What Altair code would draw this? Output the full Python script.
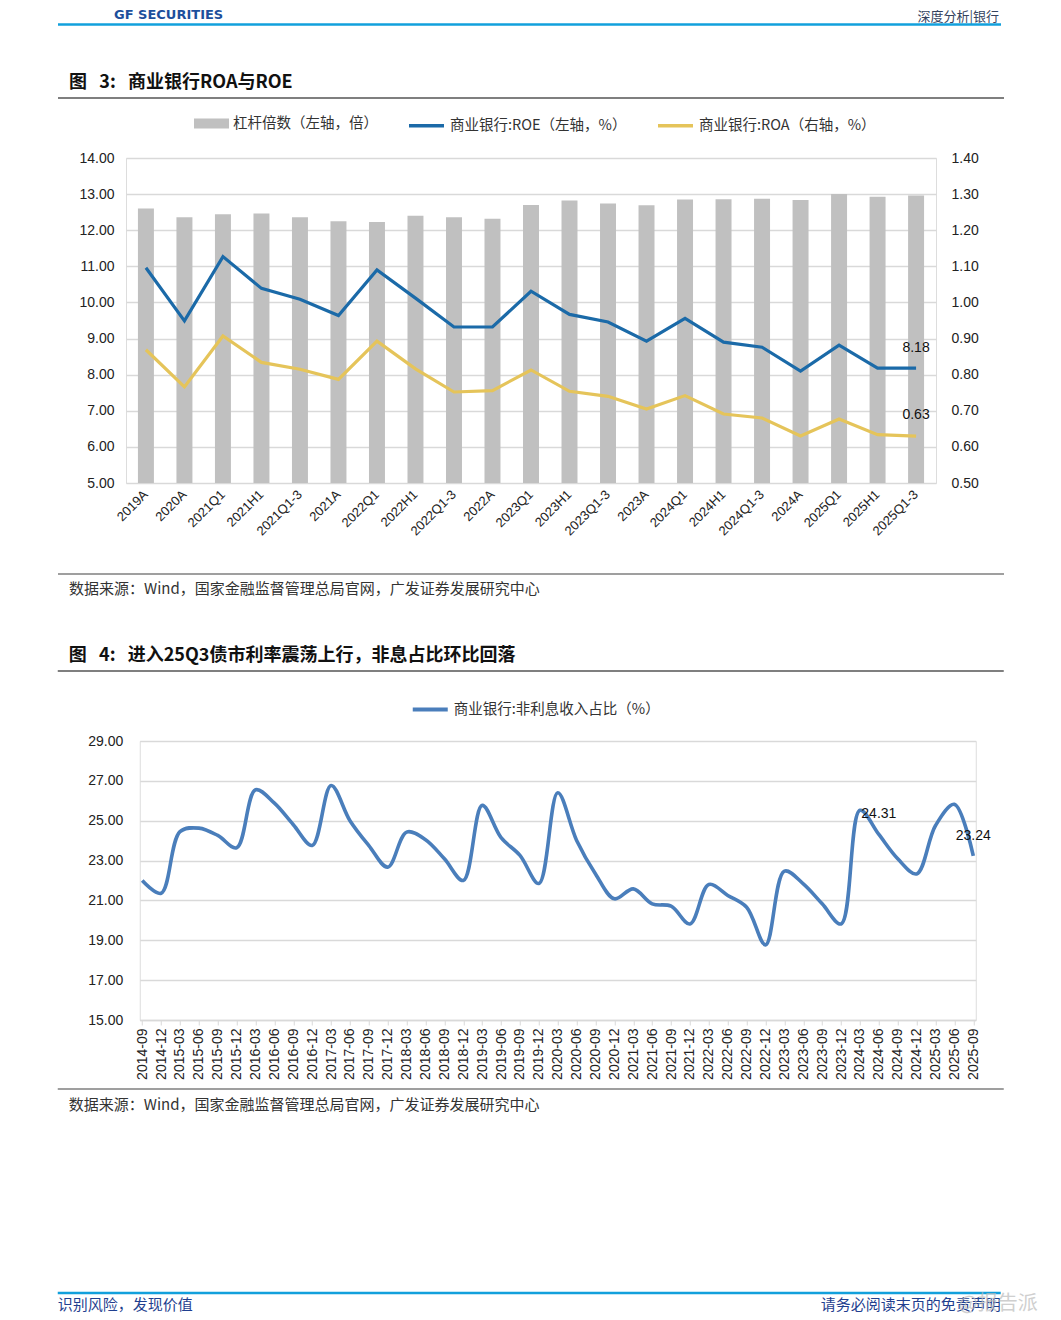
import altair as alt
import pandas as pd

# ---------------- data: chart 1 ----------------
periods = ["2019A", "2020A", "2021Q1", "2021H1", "2021Q1-3", "2021A", "2022Q1", "2022H1",
           "2022Q1-3", "2022A", "2023Q1", "2023H1", "2023Q1-3", "2023A", "2024Q1", "2024H1",
           "2024Q1-3", "2024A", "2025Q1", "2025H1", "2025Q1-3"]
leverage = [12.60, 12.36, 12.44, 12.46, 12.36, 12.25, 12.23, 12.40, 12.36, 12.32, 12.70,
            12.82, 12.74, 12.69, 12.85, 12.86, 12.87, 12.84, 13.00, 12.93, 12.96]
roe = [10.96, 9.49, 11.27, 10.39, 10.09, 9.64, 10.90, 10.12, 9.32, 9.32, 10.31,
       9.67, 9.46, 8.93, 9.56, 8.90, 8.76, 8.10, 8.82, 8.18, 8.18]
roa = [0.869, 0.766, 0.907, 0.834, 0.815, 0.787, 0.893, 0.816, 0.752, 0.756, 0.813,
       0.754, 0.740, 0.705, 0.742, 0.691, 0.680, 0.630, 0.677, 0.634, 0.630]
lev_name = "杠杆倍数（左轴，倍）"
roe_name = "商业银行:ROE（左轴，%）"
roa_name = "商业银行:ROA（右轴，%）"
left_ticks = [5, 6, 7, 8, 9, 10, 11, 12, 13, 14]
right_ticks = [0.5, 0.6, 0.7, 0.8, 0.9, 1.0, 1.1, 1.2, 1.3, 1.4]

# ---------------- data: chart 2 ----------------
quarters = ["2014-09", "2014-12",
            "2015-03", "2015-06", "2015-09", "2015-12",
            "2016-03", "2016-06", "2016-09", "2016-12",
            "2017-03", "2017-06", "2017-09", "2017-12",
            "2018-03", "2018-06", "2018-09", "2018-12",
            "2019-03", "2019-06", "2019-09", "2019-12",
            "2020-03", "2020-06", "2020-09", "2020-12",
            "2021-03", "2021-06", "2021-09", "2021-12",
            "2022-03", "2022-06", "2022-09", "2022-12",
            "2023-03", "2023-06", "2023-09", "2023-12",
            "2024-03", "2024-06", "2024-09", "2024-12",
            "2025-03", "2025-06", "2025-09"]
nonint = [22.00, 21.36,
          24.45, 24.63, 24.26, 23.64,
          26.55, 25.88, 24.80, 23.76,
          26.77, 25.00, 23.75, 22.67,
          24.43, 24.05, 23.09, 22.00,
          25.77, 24.15, 23.26, 21.85,
          26.40, 24.01, 22.33, 21.08,
          21.58, 20.83, 20.71, 19.82,
          21.80, 21.25, 20.66, 18.77,
          22.47, 21.83, 20.83, 19.82,
          25.52, 24.31, 23.09, 22.33,
          24.76, 25.82, 23.24]
nonint_name = "商业银行:非利息收入占比（%）"
labelled_quarters = ["2024-06", "2025-09"]
y2_ticks = [15, 17, 19, 21, 23, 25, 27, 29]

# ---------------- text ----------------
NB = "\u00a0"
header_right = "深度分析|银行"
header_logo = "GF SECURITIES"
title1 = "图" + NB * 3 + "3:" + NB * 3 + "商业银行ROA与ROE"
title2 = "图" + NB * 3 + "4:" + NB * 3 + "进入25Q3债市利率震荡上行，非息占比环比回落"
source_txt = "数据来源：Wind，国家金融监督管理总局官网，广发证券发展研究中心"
footer_left = "识别风险，发现价值"
footer_right = "请务必阅读末页的免责声明"
watermark = "@报告派"

CJK = "Noto Sans CJK SC"
NUM = "Liberation Sans"
GRID = "#d9d9d9"
BLUE = "#1b6aa8"
YELLOW = "#e5c45a"
GRAY = "#c0c0c0"
LINE2 = "#4a7ebb"


def deco_text(txt, x, y, size=13, align="left", baseline="middle", weight="normal",
              color="#333333", font=CJK, opacity=1.0):
    return alt.Chart(pd.DataFrame({"t": [txt]})).mark_text(
        align=align, baseline=baseline, fontSize=size, fontWeight=weight,
        color=color, font=font, opacity=opacity
    ).encode(x=alt.value(x), y=alt.value(y), text="t:N")


def deco_rule(x1, x2, y, color="#808080", width=2, opacity=1.0):
    return alt.Chart(pd.DataFrame({"r": [0]})).mark_rule(
        color=color, strokeWidth=width, opacity=opacity
    ).encode(x=alt.value(x1), x2=alt.value(x2), y=alt.value(y))


# ---------------- chart 1 ----------------
df1 = pd.DataFrame({"period": periods, "lev": leverage, "roe": roe, "roa": roa,
                    "s_lev": [lev_name] * len(periods),
                    "s_roe": [roe_name] * len(periods),
                    "s_roa": [roa_name] * len(periods)})
base1 = alt.Chart(df1)

x1 = alt.X("period:N", sort=periods,
           scale=alt.Scale(paddingInner=0.585, paddingOuter=0.31),
           axis=alt.Axis(title=None, labelAngle=-45, labelAlign="right",
                         labelBaseline="middle", labelFontSize=13, labelFont=NUM,
                         labelColor="#222222", labelPadding=9, ticks=False,
                         domain=False, labelOverlap=False, grid=False))

yleft_scale = alt.Scale(domain=[5, 14], zero=False, nice=False)
yleft_axis = alt.Axis(title=None, values=left_ticks, format=".2f", grid=True,
                      gridColor=GRID, gridWidth=1.5, domain=False, ticks=False,
                      labelPadding=12, labelFontSize=14, labelFont=NUM,
                      labelColor="#222222")
stroke_scale = alt.Scale(domain=[roe_name, roa_name], range=[BLUE, YELLOW])
stroke_legend = alt.Legend(title=None, orient="none", legendX=281, legendY=-52,
                           direction="horizontal", symbolType="stroke",
                           symbolSize=1225, symbolStrokeWidth=3.5, labelFont=CJK,
                           labelFontSize=14.5, labelColor="#333333", labelOffset=4,
                           columnPadding=24, labelLimit=0)

bars = base1.mark_bar().encode(
    x=x1,
    y=alt.Y("lev:Q", scale=yleft_scale, axis=yleft_axis),
    y2=alt.datum(5),
    color=alt.Color("s_lev:N", scale=alt.Scale(domain=[lev_name], range=[GRAY]),
                    legend=alt.Legend(title=None, orient="none", legendX=68, legendY=-52,
                                      direction="horizontal",
                                      symbolType="M-1,-0.29L1,-0.29L1,0.29L-1,0.29Z",
                                      symbolSize=1225, symbolStrokeWidth=0,
                                      labelFont=CJK, labelFontSize=14.5,
                                      labelColor="#333333", labelOffset=4,
                                      labelLimit=0)),
)
roe_line = base1.mark_line(strokeWidth=3.2).encode(
    x=x1,
    y=alt.Y("roe:Q", scale=yleft_scale, axis=yleft_axis),
    stroke=alt.Stroke("s_roe:N", scale=stroke_scale, legend=stroke_legend),
)
roe_label = base1.transform_filter(alt.datum.period == periods[-1]).mark_text(
    dy=-20, fontSize=14, font=NUM, color="#111111"
).encode(x=x1, y=alt.Y("roe:Q", scale=yleft_scale, axis=yleft_axis),
         text=alt.Text("roe:Q", format=".2f"))

left_group = alt.layer(bars, roe_line, roe_label)

yright_scale = alt.Scale(domain=[0.5, 1.4], zero=False, nice=False)
yright_axis = alt.Axis(title=None, orient="right", values=right_ticks, format=".2f",
                       grid=False, domain=False, ticks=False, labelPadding=15,
                       labelFontSize=14, labelFont=NUM, labelColor="#222222")
roa_line = base1.mark_line(strokeWidth=3.2).encode(
    x=x1,
    y=alt.Y("roa:Q", scale=yright_scale, axis=yright_axis),
    stroke=alt.Stroke("s_roa:N", scale=stroke_scale, legend=stroke_legend),
)
roa_label = base1.transform_filter(alt.datum.period == periods[-1]).mark_text(
    dy=-21, fontSize=14, font=NUM, color="#111111"
).encode(x=x1, y=alt.Y("roa:Q", scale=yright_scale, axis=yright_axis),
         text=alt.Text("roa:Q", format=".2f"))
right_group = alt.layer(roa_line, roa_label)

# decorations for panel 1 (plot origin at page (125,157))
deco1 = [
    # invisible top marker fixing the panel's upper extent
    deco_rule(700, 800, -148.5, color="#ffffff", width=1, opacity=0),
    deco_text(header_right, 873, -147.5, size=13, align="right", baseline="top",
              color="#34425e"),
    deco_text(header_logo, -12, -143, size=13, weight="bold", color="#1d4f9c",
              font="DejaVu Sans"),
    deco_rule(-68, 875, -133.5, color="#12a0dc", width=2.5),
    deco_text(title1, -57, -75, size=18, weight="bold", color="#111111"),
    deco_rule(-68, 878, -60, color="#7f7f7f", width=2),
    deco_rule(-68, 878, 416, color="#7f7f7f", width=1.5),
    deco_text(source_txt, -57, 431, size=15, color="#333333"),
    # invisible extent marker (keeps panel widths balanced in the column layout)
    deco_rule(0, 925.5, 0, color="#ffffff", width=1, opacity=0),
]

chart1 = alt.layer(left_group, right_group, *deco1).resolve_scale(
    y="independent"
).properties(width=810, height=325)

# ---------------- chart 2 ----------------
df2 = pd.DataFrame({"q": quarters, "v": nonint, "s": [nonint_name] * len(quarters)})
base2 = alt.Chart(df2)
x2 = alt.X("q:O", sort=quarters,
           scale=alt.Scale(type="point", padding=0.13),
           axis=alt.Axis(title=None, labelAngle=-90, labelAlign="right",
                         labelBaseline="middle", labelFontSize=14, labelFont=NUM,
                         labelColor="#222222", labelPadding=3, ticks=True,
                         tickColor=GRID, tickSize=5, domain=True, domainColor=GRID,
                         domainWidth=1.5, labelOverlap=False, grid=False))
y2_scale = alt.Scale(domain=[15, 29], zero=False, nice=False)
y2_axis = alt.Axis(title=None, values=y2_ticks, format=".2f", grid=True,
                   gridColor=GRID, gridWidth=1.5, domain=False, ticks=False,
                   labelPadding=17, labelFontSize=14, labelFont=NUM,
                   labelColor="#222222")
line2 = base2.mark_line(strokeWidth=3.6, interpolate="catmull-rom").encode(
    x=x2,
    y=alt.Y("v:Q", scale=y2_scale, axis=y2_axis),
    stroke=alt.Stroke("s:N", scale=alt.Scale(domain=[nonint_name], range=[LINE2]),
                      legend=alt.Legend(title=None, orient="none", legendX=271,
                                        legendY=-51, direction="horizontal",
                                        symbolType="stroke", symbolSize=1225,
                                        symbolStrokeWidth=4, labelFont=CJK,
                                        labelFontSize=14.5, labelColor="#333333",
                                        labelOffset=4, labelLimit=0)),
)
labels2 = base2.transform_filter(
    alt.FieldOneOfPredicate(field="q", oneOf=labelled_quarters)
).mark_text(dy=-20, fontSize=14, font=NUM, color="#111111").encode(
    x=x2, y=alt.Y("v:Q", scale=y2_scale, axis=y2_axis),
    text=alt.Text("v:Q", format=".2f"))

# decorations for panel 2 (plot origin at page (139,740))
deco2 = [
    deco_text(title2, -71, -85, size=18, weight="bold", color="#111111"),
    deco_rule(-82, 864, -70, color="#7f7f7f", width=2),
    deco_rule(-82, 864, 348, color="#7f7f7f", width=1.5),
    deco_text(source_txt, -71, 364, size=15, color="#333333"),
    deco_rule(-82, 861, 552, color="#12a0dc", width=2.5),
    deco_text(footer_left, -82, 564, size=15, color="#1f3f8f"),
    deco_text(footer_right, 861, 564, size=15, align="right", color="#1f3f8f"),
    deco_text(watermark, 898, 563, size=20, align="right", color="#bbbbbb",
              opacity=0.7),
]

chart2 = alt.layer(line2, labels2, *deco2).properties(width=836, height=279)

chart = alt.vconcat(chart1, chart2, spacing=48, center=True).resolve_scale(
    x="independent", y="independent", color="independent", stroke="independent"
).resolve_legend(color="independent", stroke="independent").properties(
    padding={"left": 48, "top": 0, "right": 0, "bottom": 0}
).configure_view(stroke=None).configure(background="white")

chart.save("out.html", embed_options={"renderer": "svg", "actions": False})
